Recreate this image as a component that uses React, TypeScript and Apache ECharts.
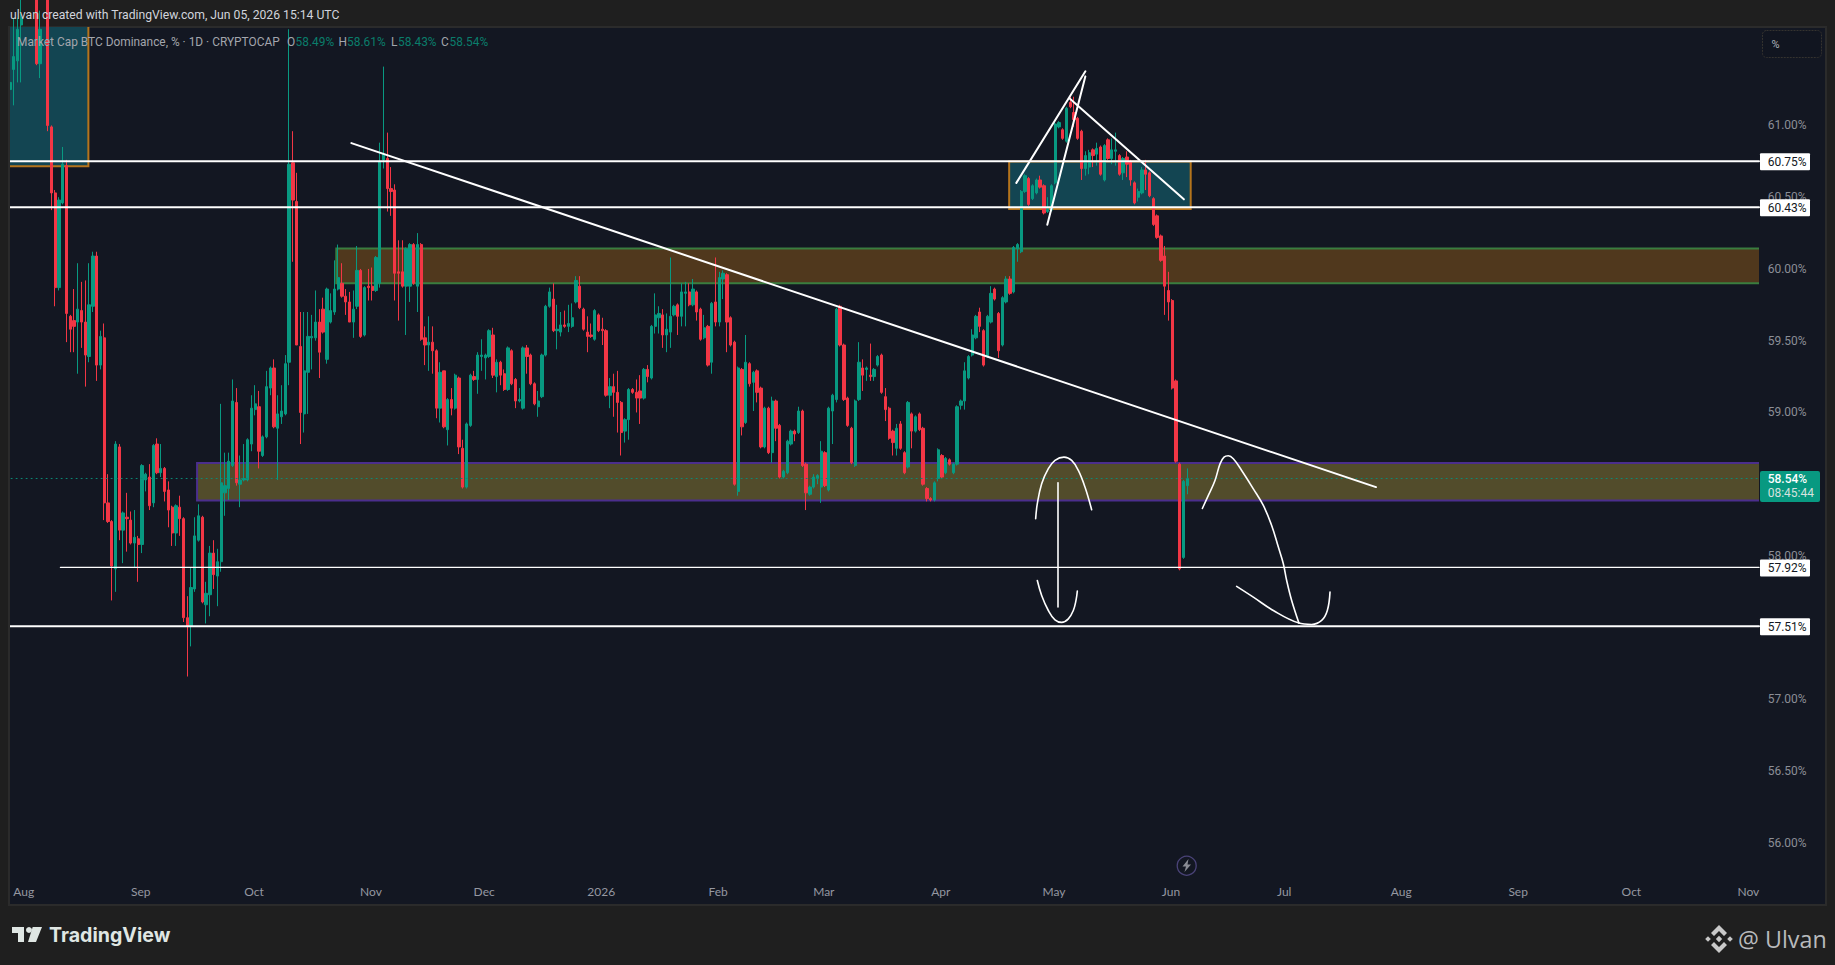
import React, { useEffect, useRef } from "react";
import * as echarts from "echarts";

// [open, close, low, high], month by month
const jul25 = [
  [61.25, 61.3, 61.03, 61.4], [61.39, 61.48, 61.14, 61.75], [61.45, 61.67, 61.3, 61.75], [61.7, 61.75, 61.3, 61.9],
];
const aug25 = [
  [61.9, 62.0, 61.8, 62.1], [62.0, 62.05, 61.9, 62.2], [62.05, 61.95, 61.85, 62.1], [61.95, 61.43, 61.42, 62.0], [61.43, 61.67, 61.33, 61.8],
  [61.9, 61.95, 61.8, 62.0], [61.95, 61.0, 60.96, 62.0], [60.99, 60.53, 60.41, 61.0], [60.53, 59.87, 59.74, 60.55], [59.87, 60.48, 59.85, 60.5],
  [60.46, 60.73, 60.45, 60.85], [60.72, 59.69, 59.49, 60.76], [59.67, 59.58, 59.42, 59.68], [59.64, 59.6, 59.42, 59.86], [59.63, 59.72, 59.27, 60.04],
  [59.71, 59.63, 59.45, 59.91], [59.63, 59.4, 59.18, 59.92], [59.39, 59.75, 59.35, 60.04], [59.74, 60.09, 59.7, 60.12], [60.09, 59.33, 59.22, 60.12],
  [59.33, 59.53, 59.3, 59.57], [59.52, 58.37, 58.25, 59.62], [58.37, 58.24, 58.23, 58.57], [58.24, 57.93, 57.69, 58.25], [57.91, 58.78, 57.75, 58.8],
  [58.76, 58.18, 58.11, 58.78], [58.18, 58.3, 57.95, 58.31], [58.27, 58.26, 58.03, 58.44], [58.25, 58.09, 58.08, 58.31], [58.09, 58.13, 57.92, 58.32],
  [58.12, 58.08, 57.82, 58.14],
];
const sep25 = [
  [58.08, 58.63, 58.02, 58.64], [58.53, 58.57, 58.45, 58.58], [58.55, 58.35, 58.32, 58.64], [58.37, 58.77, 58.34, 58.78], [58.78, 58.58, 58.57, 58.82],
  [58.58, 58.61, 58.55, 58.78], [58.61, 58.45, 58.38, 58.62], [58.46, 58.32, 58.2, 58.52], [58.34, 58.16, 58.07, 58.35], [58.16, 58.35, 58.07, 58.36],
  [58.34, 58.26, 58.14, 58.42], [58.26, 57.57, 57.54, 58.27], [57.57, 57.51, 57.16, 57.72], [57.51, 57.78, 57.37, 57.92], [57.77, 58.14, 57.75, 58.27],
  [58.11, 58.28, 58.1, 58.36], [58.27, 57.68, 57.67, 58.28], [57.66, 57.74, 57.53, 57.82], [57.73, 58.02, 57.58, 58.07], [58.02, 57.87, 57.77, 58.11],
  [57.86, 57.96, 57.65, 58.05], [57.96, 58.51, 57.89, 59.06], [58.44, 58.49, 58.28, 58.72], [58.47, 58.66, 58.39, 58.72], [58.63, 59.08, 58.62, 59.23],
  [59.07, 58.51, 58.49, 59.17], [58.5, 58.53, 58.34, 58.7], [58.53, 58.54, 58.52, 58.78], [58.53, 58.81, 58.52, 58.82], [58.78, 59.03, 58.73, 59.12],
];
const oct25 = [
  [59.02, 59.06, 58.98, 59.19], [59.04, 58.73, 58.61, 59.15], [58.7, 58.83, 58.69, 58.84], [58.83, 59.18, 58.82, 59.29], [59.17, 59.31, 59.12, 59.32],
  [59.31, 58.9, 58.89, 59.37], [58.89, 58.99, 58.53, 59.12], [58.97, 59.01, 58.92, 59.19], [58.99, 59.34, 58.98, 59.4], [59.35, 60.73, 59.19, 61.67],
  [60.74, 60.48, 60.05, 60.96], [60.47, 59.47, 59.47, 60.67], [59.46, 59.0, 58.78, 59.7], [58.99, 59.29, 58.86, 59.7], [59.28, 59.53, 58.99, 59.7],
  [59.52, 59.53, 59.3, 59.68], [59.52, 59.63, 59.5, 59.85], [59.63, 59.42, 59.24, 59.72], [59.72, 59.56, 59.55, 59.8], [59.37, 59.86, 59.34, 59.87],
  [59.63, 59.71, 59.62, 59.83], [59.7, 59.86, 59.68, 60.06], [59.86, 59.94, 59.85, 60.17], [59.9, 59.81, 59.8, 60.04], [59.81, 59.77, 59.68, 59.86],
  [59.77, 59.63, 59.63, 59.84], [59.63, 59.72, 59.52, 59.85], [59.74, 59.99, 59.72, 60.16], [59.99, 59.53, 59.52, 60.0], [59.54, 59.87, 59.53, 59.88],
  [59.88, 59.87, 59.78, 60.0],
];
const nov25 = [
  [59.88, 59.85, 59.78, 60.01], [59.85, 60.08, 59.84, 60.09], [59.9, 60.75, 59.87, 60.88], [60.76, 60.8, 60.7, 61.41], [60.77, 60.56, 60.4, 60.95],
  [60.56, 60.54, 60.37, 60.71], [60.55, 59.97, 59.78, 60.59], [59.98, 59.97, 59.64, 60.2], [59.98, 59.88, 59.87, 60.2], [59.88, 60.14, 59.54, 60.15],
  [59.88, 60.17, 59.77, 60.18], [60.17, 59.9, 59.89, 60.18], [59.88, 60.17, 59.7, 60.25], [60.17, 59.51, 59.5, 60.18], [59.52, 59.47, 59.33, 59.6],
  [59.47, 59.49, 59.29, 59.67], [59.49, 59.43, 59.27, 59.6], [59.43, 59.03, 58.96, 59.44], [59.03, 59.28, 58.93, 59.35], [59.29, 58.9, 58.89, 59.29],
  [58.88, 59.09, 58.77, 59.1], [59.09, 59.03, 58.98, 59.17], [59.03, 59.26, 59.02, 59.27], [59.24, 58.76, 58.71, 59.25], [58.75, 58.48, 58.47, 58.81],
  [58.48, 58.92, 58.47, 58.93], [58.91, 59.26, 58.9, 59.27], [59.25, 59.23, 59.22, 59.29], [59.23, 59.4, 59.13, 59.42], [59.39, 59.4, 59.29, 59.51],
];
const dec25 = [
  [59.38, 59.4, 59.23, 59.41], [59.39, 59.57, 59.38, 59.58], [59.54, 59.26, 59.24, 59.59], [59.25, 59.35, 59.14, 59.37], [59.35, 59.26, 59.19, 59.36],
  [59.27, 59.16, 59.15, 59.3], [59.16, 59.45, 59.15, 59.46], [59.43, 59.2, 59.19, 59.44], [59.23, 59.08, 59.03, 59.24], [59.08, 59.09, 59.07, 59.17],
  [59.03, 59.45, 59.02, 59.46], [59.45, 59.39, 59.27, 59.47], [59.4, 59.2, 59.19, 59.41], [59.2, 59.06, 59.05, 59.21], [59.04, 59.08, 58.97, 59.15],
  [59.11, 59.4, 59.1, 59.41], [59.4, 59.74, 59.39, 59.75], [59.74, 59.84, 59.73, 59.87], [59.79, 59.57, 59.56, 59.9], [59.57, 59.58, 59.44, 59.75],
  [59.56, 59.61, 59.53, 59.7], [59.61, 59.6, 59.59, 59.71], [59.6, 59.62, 59.56, 59.75], [59.6, 59.66, 59.59, 59.76], [59.77, 59.92, 59.76, 59.95],
  [59.88, 59.73, 59.72, 59.95], [59.72, 59.58, 59.57, 59.73], [59.56, 59.53, 59.42, 59.67], [59.54, 59.53, 59.52, 59.62], [59.51, 59.71, 59.5, 59.72],
  [59.68, 59.57, 59.56, 59.69],
];
const jan26 = [
  [59.58, 59.57, 59.47, 59.66], [59.57, 59.12, 59.11, 59.58], [59.12, 59.18, 59.03, 59.24], [59.18, 59.14, 58.97, 59.27], [59.14, 59.07, 58.86, 59.29],
  [59.07, 58.86, 58.7, 59.08], [58.87, 58.95, 58.79, 58.96], [58.95, 59.16, 58.81, 59.17], [59.16, 59.14, 59.13, 59.17], [59.14, 59.1, 59.0, 59.23],
  [59.15, 59.1, 58.92, 59.26], [59.1, 59.3, 59.09, 59.31], [59.3, 59.25, 59.21, 59.33], [59.24, 59.6, 59.23, 59.61], [59.6, 59.68, 59.55, 59.83],
  [59.66, 59.69, 59.55, 59.74], [59.68, 59.54, 59.45, 59.72], [59.54, 59.58, 59.42, 59.69], [59.56, 59.67, 59.45, 60.08], [59.68, 59.74, 59.67, 59.75],
  [59.75, 59.67, 59.54, 59.76], [59.67, 59.84, 59.6, 59.9], [59.83, 59.84, 59.6, 59.91], [59.84, 59.75, 59.74, 59.9], [59.75, 59.86, 59.74, 59.93],
  [59.84, 59.7, 59.64, 59.85], [59.72, 59.51, 59.5, 59.73], [59.52, 59.59, 59.51, 59.68], [59.6, 59.33, 59.32, 59.61], [59.35, 59.76, 59.27, 59.77],
  [59.77, 59.63, 59.6, 60.08],
];
const feb26 = [
  [59.63, 59.94, 59.6, 59.98], [59.93, 59.97, 59.79, 59.99], [59.96, 59.63, 59.42, 59.97], [59.66, 59.47, 59.46, 59.67], [59.49, 58.5, 58.49, 59.5],
  [58.45, 59.31, 58.42, 59.32], [59.3, 58.9, 58.84, 59.31], [58.93, 59.35, 58.92, 59.54], [59.34, 59.2, 59.18, 59.35], [59.21, 59.28, 59.01, 59.29],
  [59.29, 59.14, 59.07, 59.3], [59.17, 58.76, 58.75, 59.18], [58.76, 59.03, 58.75, 59.04], [59.03, 58.72, 58.71, 59.04], [58.72, 59.08, 58.65, 59.11],
  [59.08, 58.89, 58.8, 59.09], [58.91, 58.55, 58.54, 58.92], [58.55, 58.59, 58.54, 58.6], [58.58, 58.8, 58.57, 58.81], [58.78, 58.87, 58.77, 58.88],
  [58.87, 58.85, 58.8, 58.88], [58.86, 59.01, 58.85, 59.04], [59.01, 58.63, 58.62, 59.02], [58.64, 58.44, 58.32, 58.65], [58.43, 58.48, 58.42, 58.49],
  [58.48, 58.55, 58.47, 58.57], [58.54, 58.56, 58.5, 58.57], [58.48, 58.73, 58.37, 58.8],
];
const mar26 = [
  [58.72, 58.49, 58.48, 58.73], [58.46, 59.03, 58.45, 59.04], [59.01, 59.12, 58.78, 59.13], [59.09, 59.72, 59.07, 59.73], [59.74, 59.47, 59.46, 59.75],
  [59.47, 59.09, 59.08, 59.48], [59.1, 58.91, 58.9, 59.11], [58.89, 58.65, 58.64, 58.9], [58.63, 59.08, 58.62, 59.09], [59.09, 59.35, 59.08, 59.49],
  [59.31, 59.26, 59.15, 59.37], [59.3, 59.31, 59.22, 59.32], [59.26, 59.25, 59.22, 59.48], [59.25, 59.3, 59.22, 59.31], [59.33, 59.39, 59.32, 59.4],
  [59.4, 59.14, 59.13, 59.41], [59.11, 59.02, 58.94, 59.17], [59.03, 58.82, 58.81, 59.04], [58.87, 58.79, 58.7, 58.88], [58.75, 58.89, 58.7, 58.92],
  [58.92, 58.75, 58.74, 58.94], [58.72, 58.58, 58.57, 58.73], [58.62, 59.07, 58.61, 59.08], [58.99, 58.87, 58.75, 59.0], [58.87, 58.97, 58.86, 58.98],
  [58.99, 58.88, 58.87, 59.0], [58.89, 58.5, 58.49, 58.9], [58.47, 58.4, 58.38, 58.48], [58.4, 58.39, 58.38, 58.41], [58.39, 58.51, 58.38, 58.52],
  [58.54, 58.74, 58.52, 58.75],
];
const apr26 = [
  [58.7, 58.55, 58.54, 58.71], [58.58, 58.68, 58.57, 58.69], [58.67, 58.64, 58.63, 58.68], [58.58, 58.64, 58.57, 58.65], [58.64, 59.04, 58.63, 59.05],
  [59.05, 59.08, 59.02, 59.09], [59.08, 59.29, 59.02, 59.35], [59.24, 59.39, 59.23, 59.4], [59.4, 59.54, 59.39, 59.58], [59.52, 59.67, 59.51, 59.68],
  [59.7, 59.6, 59.56, 59.73], [59.57, 59.33, 59.32, 59.58], [59.39, 59.67, 59.38, 59.68], [59.63, 59.83, 59.62, 59.88], [59.86, 59.79, 59.78, 59.87],
  [59.69, 59.43, 59.38, 59.7], [59.47, 59.8, 59.46, 59.81], [59.77, 59.93, 59.76, 59.95], [59.93, 59.83, 59.82, 59.95], [59.84, 60.15, 59.83, 60.16],
  [60.14, 60.17, 60.05, 60.18], [60.12, 60.54, 60.11, 60.55], [60.54, 60.65, 60.53, 60.66], [60.63, 60.45, 60.44, 60.64], [60.49, 60.58, 60.48, 60.59],
  [60.53, 60.62, 60.52, 60.63], [60.62, 60.57, 60.56, 60.65], [60.58, 60.39, 60.38, 60.59], [60.4, 60.42, 60.39, 60.5], [60.41, 60.58, 60.4, 60.59],
];
const may26 = [
  [60.6, 61.01, 60.59, 61.02], [60.99, 61.02, 60.98, 61.03], [60.97, 60.91, 60.9, 60.98], [60.89, 61.12, 60.88, 61.13], [61.16, 61.13, 61.12, 61.2],
  [61.09, 61.04, 60.99, 61.2], [61.05, 60.91, 60.9, 61.06], [60.96, 60.7, 60.62, 60.97], [60.7, 60.79, 60.65, 60.82], [60.71, 60.81, 60.66, 60.83],
  [60.83, 60.79, 60.71, 60.84], [60.8, 60.84, 60.72, 60.88], [60.85, 60.66, 60.65, 60.86], [60.62, 60.86, 60.61, 60.87], [60.9, 60.77, 60.76, 60.91],
  [60.77, 60.83, 60.73, 60.91], [60.82, 60.83, 60.72, 60.95], [60.79, 60.66, 60.65, 60.8], [60.67, 60.77, 60.62, 60.78], [60.78, 60.73, 60.64, 60.82],
  [60.75, 60.62, 60.58, 60.76], [60.6, 60.46, 60.45, 60.61], [60.5, 60.54, 60.47, 60.56], [60.53, 60.69, 60.52, 60.71], [60.69, 60.66, 60.55, 60.76],
  [60.67, 60.51, 60.5, 60.68], [60.49, 60.31, 60.3, 60.5], [60.37, 60.22, 60.21, 60.38], [60.23, 60.06, 60.05, 60.24], [60.09, 59.88, 59.68, 60.16],
  [59.85, 59.77, 59.64, 59.98],
];
const jun26 = [
  [59.78, 59.17, 59.16, 59.79], [59.22, 58.66, 58.65, 59.23], [58.64, 57.91, 57.9, 58.65], [57.99, 58.52, 57.98, 58.53], [58.49, 58.54, 58.43, 58.61],
];
const candles = [...jul25, ...aug25, ...sep25, ...oct25, ...nov25, ...dec25, ...jan26, ...feb26, ...mar26, ...apr26, ...may26, ...jun26];

const firstDay = Date.UTC(2025, 6, 28);
const barCount = 464;
const days = Array.from({ length: barCount }, (_, i) => new Date(firstDay + i * 86400000).toISOString().slice(0, 10));
const monthNames = ["2026", "Feb", "Mar", "Apr", "May", "Jun", "Jul", "Aug", "Sep", "Oct", "Nov", "Dec"];

// 58.50 and 57.50 sit wholly behind the price tags in the reference
const priceTicks = [56, 56.5, 57, 58, 59, 59.5, 60, 60.5, 61];
const lastPrice = 58.54;

// horizontal levels: [price, first bar, last bar, width]
const levels = [
  [60.75, -1, 463.5, 2], [60.43, -1, 463.5, 2], [57.92, 13.4, 463.5, 1.3], [57.51, -1, 463.5, 2],
];
const levelTags = [60.75, 60.43, 57.92, 57.51];

// zones: [bar from, bar to, price top, price bottom]
const zones = [
  [-5, 20.8, 62.3, 60.716], [264.8, 312.9, 60.749, 60.417], [86.5, 470, 60.143, 59.901], [49.6, 470, 58.647, 58.387],
];
const zoneFill = ["#134552", "#134552", "#50381d", "#524c2b"];
const zoneEdge = ["#b5741c", "#b5741c", "#3a7d3f", "#4b2e8d"];

const trendLine = [[90.5, 60.877], [362, 58.48]];
const wedgeUp = [[266.7, 60.6], [285, 61.377]];
const wedgeUp2 = [[274.9, 60.308], [285, 61.342]];
const wedgeDown = [[280.9, 61.186], [311.1, 60.485]];
const arrowStem = [[277.74, 58.51], [277.74, 57.644]];
const archLeft = [[271.82, 58.259], [272.26, 58.364], [273.41, 58.503], [275.18, 58.608], [276.94, 58.666], [279.33, 58.689], [281.36, 58.666], [283.13, 58.596], [284.89, 58.48], [286.66, 58.322]];
const cupLeft = [[272.26, 57.829], [273.41, 57.725], [275.18, 57.62], [276.94, 57.555], [278.71, 57.537], [280.48, 57.562], [281.8, 57.62], [282.51, 57.69], [282.86, 57.755]];
const archRight = [[315.99, 58.331], [317.58, 58.422], [319.34, 58.526], [320.67, 58.642], [321.73, 58.689], [322.88, 58.698], [324.2, 58.677], [326.41, 58.596], [329.5, 58.468], [332.15, 58.352], [334.36, 58.213], [336.13, 58.062], [337.45, 57.946], [338.34, 57.829], [339.66, 57.69], [341.6, 57.532]];
const cupRight = [[325.08, 57.788], [329.5, 57.713], [334.8, 57.62], [341.43, 57.534], [344.96, 57.523], [347.61, 57.551], [349.11, 57.62], [349.82, 57.748]];

const UP = "#089981";
const DOWN = "#f23645";
const PAGE = "#1f1f1f";
const FONT = "Roboto, sans-serif";

const GRID = { left: 8, top: 27, width: 1751, height: 849 };
const Y_MAX = 61.686;
const Y_MIN = 55.77;
const yOf = (p: number) => GRID.top + ((Y_MAX - p) / (Y_MAX - Y_MIN)) * GRID.height;

const txt = (text: string, x: number, y: number, fill: string, size = 12, extra: any = {}) => ({
  type: "text", x, y, z: 100, silent: true,
  style: { text, fill, fontSize: size, fontFamily: FONT, verticalAlign: "middle", ...extra },
});
const poly = (points: number[][], fill: string) => ({ type: "polygon", z: 100, silent: true, shape: { points }, style: { fill } });

function buildGraphic() {
  const els: any[] = [];
  // frame: covers the edge of the plot
  els.push({ type: "rect", z: 90, silent: true, shape: { x: 0, y: 0, width: 8, height: 965 }, style: { fill: PAGE } });
  els.push({ type: "rect", z: 90, silent: true, shape: { x: 8, y: 26, width: 2, height: 880 }, style: { fill: "#2b2b2b" } });
  // header + legend
  els.push(txt("ulvan created with TradingView.com, Jun 05, 2026 15:14 UTC", 10, 15, "#d1d4dc", 12.2));
  els.push(txt("Market Cap BTC Dominance, % · 1D · CRYPTOCAP", 17, 42, "#a3a6ad", 11.9));
  const ohlc = [["O", "58.49%", 287], ["H", "58.61%", 338.5], ["L", "58.43%", 391], ["C", "58.54%", 441]];
  ohlc.forEach(([k, v, x]: any) => {
    els.push(txt(k, x, 42, "#a3a6ad", 11.9));
    els.push(txt(v, x + (k === "L" ? 7 : 8.6), 42, "#0a7d6b", 11.9));
  });
  // % box
  els.push({ type: "rect", z: 100, silent: true, shape: { x: 1762.5, y: 30.5, width: 59, height: 27, r: 4 }, style: { fill: "#111520", stroke: "#35332f", lineWidth: 1, lineDash: [2, 1] } });
  els.push(txt("%", 1771.5, 44.5, "#b2b5be", 11));
  // level tags
  levelTags.forEach((p) => {
    const y = yOf(p);
    els.push({ type: "rect", z: 100, silent: true, shape: { x: 1760, y: y - 8, width: 50, height: 17, r: 1 }, style: { fill: "#ffffff" } });
    els.push(txt(p.toFixed(2) + "%", 1767.7, y + 1, "#131722"));
  });
  // current price tag
  const ly = yOf(lastPrice);
  els.push({ type: "rect", z: 100, silent: true, shape: { x: 1760, y: ly - 7.5, width: 60, height: 31, r: 2 }, style: { fill: UP } });
  els.push(txt("58.54%", 1767.7, ly + 0.8, "#ffffff", 12, { fontWeight: 500 }));
  els.push(txt("08:45:44", 1767.7, ly + 14.8, "#d6e2df"));
  // lightning
  els.push({ type: "circle", z: 100, silent: true, shape: { cx: 1186.7, cy: 865.7, r: 9.5 }, style: { fill: "none", stroke: "#4a4378", lineWidth: 1.3 } });
  els.push(poly([[1188.5, 859], [1182.5, 866.5], [1186, 866.5], [1184.5, 872], [1191, 864.5], [1187.5, 864.5]], "#8a8c94"));
  // TradingView logo
  els.push(poly([[12, 927], [24, 927], [24, 942], [18, 942], [18, 933], [12, 933]], "#dfe6e3"));
  els.push({ type: "circle", z: 100, silent: true, shape: { cx: 29, cy: 930, r: 3 }, style: { fill: "#dfe6e3" } });
  els.push(poly([[32.7, 927], [42, 927], [36, 942], [28, 942]], "#dfe6e3"));
  els.push(txt("TradingView", 49, 935, "#dfe6e3", 19.6, { fontFamily: "Inter, sans-serif", fontWeight: 700 }));
  // Ulvan signature
  const cx = 1719, cy = 939, ic = "#c9c9c9";
  els.push(poly([[cx, cy - 14], [cx + 8, cy - 6], [cx + 5, cy - 3], [cx, cy - 8], [cx - 5, cy - 3], [cx - 8, cy - 6]], ic));
  els.push(poly([[cx, cy + 14], [cx + 8, cy + 6], [cx + 5, cy + 3], [cx, cy + 8], [cx - 5, cy + 3], [cx - 8, cy + 6]], ic));
  els.push(poly([[cx, cy - 3.2], [cx + 3.2, cy], [cx, cy + 3.2], [cx - 3.2, cy]], ic));
  els.push(poly([[cx - 13.8, cy], [cx - 11, cy - 2.8], [cx - 8.2, cy], [cx - 11, cy + 2.8]], ic));
  els.push(poly([[cx + 13.8, cy], [cx + 11, cy - 2.8], [cx + 8.2, cy], [cx + 11, cy + 2.8]], ic));
  els.push(txt("@ Ulvan", 1738, 939, "#b8babc", 23.3, { fontFamily: "'Open Sans', sans-serif" }));
  return { elements: els };
}

const stroke = (data: number[][], width = 2, smooth: number | boolean = false, color = "#ffffff", type: any = "solid") => ({
  type: "line", xAxisIndex: 1, yAxisIndex: 0, z: 5, data, smooth, showSymbol: false, symbol: "none", silent: true,
  lineStyle: { color, width, type, cap: "round", join: "round" }, clip: true,
});

export default function App() {
  const ref = useRef<HTMLDivElement>(null);
  useEffect(() => {
    document.body.style.margin = "0";
    document.body.style.background = PAGE;
    const chart = echarts.init(ref.current!, undefined, { renderer: "svg" });
    chart.setOption({
      animation: false,
      backgroundColor: "transparent",
      grid: { ...GRID, containLabel: false },
      xAxis: [
        {
          type: "category", data: days, boundaryGap: true,
          axisLine: { show: false }, axisTick: { show: false }, splitLine: { show: false },
          axisLabel: {
            color: "#9598a1", fontSize: 12, fontFamily: "Lato, sans-serif", margin: 9, hideOverlap: false, padding: [0, 2.4, 0, 0],
            interval: (_: number, v: string) => v.endsWith("-01"),
            formatter: (v: string) => monthNames[Number(v.slice(5, 7)) - 1],
          },
        },
        { type: "value", min: -0.5, max: barCount - 0.5, show: false, splitLine: { show: false } },
      ],
      yAxis: {
        type: "value", position: "right", min: Y_MIN, max: Y_MAX,
        axisLine: { show: false }, axisTick: { show: false }, splitLine: { show: false },
        axisLabel: {
          customValues: priceTicks, color: "#8b8e96", fontSize: 12, fontFamily: FONT, margin: 8.7,
          formatter: (v: number) => v.toFixed(2) + "%",
        },
      },
      graphic: buildGraphic(),
      series: [
        {
          type: "custom", xAxisIndex: 1, yAxisIndex: 0, z: 1, silent: true, clip: true,
          data: zones, encode: { x: [0, 1], y: [2, 3] },
          renderItem: (params: any, api: any) => {
            const a = api.coord([api.value(0), api.value(2)]);
            const b = api.coord([api.value(1), api.value(3)]);
            return {
              type: "rect",
              shape: { x: a[0], y: a[1], width: b[0] - a[0], height: b[1] - a[1] },
              style: { fill: zoneFill[params.dataIndex], stroke: zoneEdge[params.dataIndex], lineWidth: 2 },
            };
          },
        },
        {
          type: "candlestick", xAxisIndex: 0, yAxisIndex: 0, z: 3, silent: true, clip: true,
          barWidth: 2.8, data: candles,
          itemStyle: { color: UP, color0: DOWN, borderColor: UP, borderColor0: DOWN, borderWidth: 1 },
        },
        stroke([[-1, lastPrice], [463.5, lastPrice]], 1, false, "#0c8a76", [1, 4]),
        ...levels.map(([p, a, b, w]) => stroke([[a, p], [b, p]], w)),
        stroke(trendLine, 2),
        stroke(wedgeUp, 2),
        stroke(wedgeUp2, 2),
        stroke(wedgeDown, 2),
        stroke(arrowStem, 1.6),
        stroke(archLeft, 1.6, 0.4),
        stroke(cupLeft, 1.6, 0.4),
        stroke(archRight, 1.6, 0.4),
        stroke(cupRight, 1.6, 0.4),
      ],
    });
    return () => chart.dispose();
  }, []);
  return (
    <div style={{ position: "absolute", left: 0, top: 0, width: 1835, height: 965, background: PAGE, overflow: "hidden" }}>
      <div style={{ position: "absolute", left: 8, top: 26, width: 1819, height: 880, boxSizing: "border-box", background: "#131722", border: "2px solid #2b2b2b" }} />
      <div ref={ref} style={{ position: "absolute", left: 0, top: 0, width: 1835, height: 965 }} />
    </div>
  );
}
